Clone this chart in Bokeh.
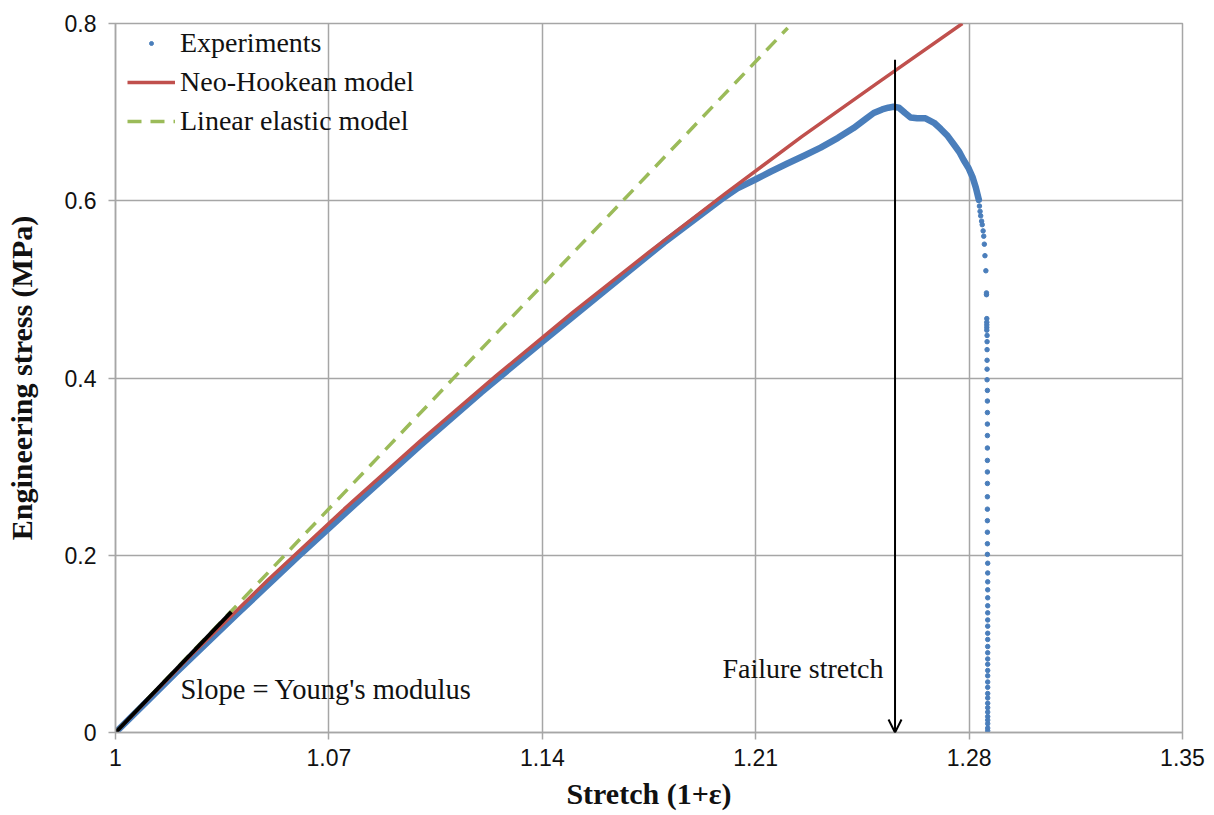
from bokeh.plotting import figure
from bokeh.models import Range1d, FixedTicker, Arrow, OpenHead, Legend, LegendItem
from bokeh.core.properties import value
from bokeh.embed import file_html
from bokeh.resources import INLINE

# ---------------- data ----------------
x_ticks = [1.0, 1.07, 1.14, 1.21, 1.28, 1.35]
x_tick_labels = ["1", "1.07", "1.14", "1.21", "1.28", "1.35"]
y_ticks = [0.0, 0.2, 0.4, 0.6, 0.8]
y_tick_labels = ["0", "0.2", "0.4", "0.6", "0.8"]

# Experiments: dense band of points (up to the peak and the first drop)
exp_band_stretch = [1.000, 1.010, 1.020, 1.040, 1.060, 1.080, 1.100, 1.120, 1.140,
                    1.160, 1.180, 1.190, 1.1985, 1.2040, 1.2099, 1.2150, 1.2204,
                    1.2260, 1.2313, 1.2370, 1.2421, 1.2460, 1.2487, 1.2515, 1.2535,
                    1.2552, 1.2570, 1.2590, 1.2608, 1.2630, 1.2657, 1.2685, 1.2707,
                    1.2730, 1.2749, 1.2768, 1.2782, 1.2798, 1.2811, 1.2822, 1.2832]
exp_band_stress = [0.000, 0.034, 0.068, 0.134, 0.199, 0.262, 0.324, 0.384, 0.441,
                   0.497, 0.553, 0.579, 0.601, 0.614, 0.624, 0.633, 0.642,
                   0.651, 0.660, 0.671, 0.682, 0.692, 0.699, 0.703, 0.705,
                   0.706, 0.705, 0.699, 0.694, 0.693, 0.693, 0.688, 0.681,
                   0.673, 0.664, 0.655, 0.646, 0.637, 0.627, 0.615, 0.601]

# Experiments: separated points of the final fall
exp_tail_stress = [0.594, 0.588, 0.583, 0.577, 0.573, 0.566, 0.560, 0.551, 0.538,
                   0.521, 0.496, 0.494, 0.467, 0.463, 0.460, 0.457, 0.454, 0.448,
                   0.441, 0.432, 0.420, 0.410, 0.398, 0.386, 0.374, 0.361, 0.348,
                   0.335, 0.321, 0.307, 0.294, 0.281, 0.266, 0.252, 0.239, 0.226,
                   0.213, 0.201, 0.191, 0.180, 0.170, 0.161, 0.152, 0.143, 0.135,
                   0.127, 0.120, 0.112, 0.105, 0.097, 0.090, 0.083, 0.077, 0.070,
                   0.064, 0.057, 0.051, 0.044, 0.039, 0.033, 0.028, 0.023, 0.018,
                   0.014, 0.010, 0.005, 0.002]
exp_tail_stretch = [1.2834, 1.2836, 1.2838, 1.2841, 1.2843, 1.2846, 1.2848, 1.2850, 1.2852,
                    1.2855, 1.2857, 1.2857, 1.2858, 1.2858, 1.2858, 1.2858, 1.2858, 1.2859,
                    1.2859, 1.2859, 1.2859, 1.2859, 1.2859, 1.2860, 1.2860, 1.2860, 1.2860,
                    1.2860, 1.2860, 1.2860, 1.2860, 1.2860, 1.2860, 1.2860, 1.2860, 1.2860,
                    1.2860, 1.2860, 1.2861, 1.2861, 1.2861, 1.2861, 1.2861, 1.2861, 1.2861,
                    1.2861, 1.2861, 1.2861, 1.2861, 1.2861, 1.2861, 1.2861, 1.2861, 1.2861,
                    1.2861, 1.2861, 1.2861, 1.2861, 1.2861, 1.2861, 1.2861, 1.2861, 1.2861,
                    1.2861, 1.2861, 1.2861, 1.2861]

# Neo-Hookean model curve
neo_stretch = [1.000, 1.025, 1.050, 1.075, 1.100, 1.125, 1.150, 1.175, 1.200, 1.225, 1.250, 1.2778]
neo_stress = [0.000, 0.088, 0.172, 0.252, 0.329, 0.403, 0.474, 0.542, 0.608, 0.672, 0.733, 0.800]

# Linear elastic model line
lin_stretch = [1.000, 1.2205]
lin_stress = [0.000, 0.795]

# Initial slope (Young's modulus) segment
slope_stretch = [1.000, 1.038]
slope_stress = [0.000, 0.136]

# Failure stretch arrow
failure_stretch = 1.2557
failure_arrow_top = 0.759

annotation_texts = ["Failure stretch", "Slope = Young's modulus"]
annotation_x = [1.2519, 1.0213]
annotation_y = [0.072, 0.0485]

# ---------------- styling ----------------
BLUE = "#4a7ebb"
RED = "#c0504d"
GREEN = "#9bbb59"
GRID = "#a6a6a6"
SERIF = "Liberation Serif"
SANS = "Liberation Sans"

p = figure(width=1214, height=815, output_backend="svg", toolbar_location=None,
           x_range=Range1d(1.0, 1.35), y_range=Range1d(0.0, 0.8),
           min_border_left=115, min_border_right=32, min_border_top=23,
           min_border_bottom=83)
p.background_fill_color = "white"
p.border_fill_color = "white"
p.outline_line_color = GRID
p.outline_line_width = 1.5

for ax, ticks, labels in ((p.xaxis, x_ticks, x_tick_labels), (p.yaxis, y_ticks, y_tick_labels)):
    ax.ticker = FixedTicker(ticks=ticks)
    ax.major_label_overrides = dict(zip(ticks, labels))
    ax.minor_tick_line_color = None
    ax.axis_line_color = GRID
    ax.axis_line_width = 1.5
    ax.major_tick_line_color = GRID
    ax.major_tick_line_width = 1.5
    ax.major_tick_in = 0
    ax.major_tick_out = 7
    ax.major_label_text_font = SANS
    ax.major_label_text_font_size = "23px"
    ax.major_label_text_color = "#111111"
    ax.axis_label_text_font = SERIF
    ax.axis_label_text_font_style = "bold"
    ax.axis_label_text_font_size = "30px"
    ax.axis_label_text_color = "#111111"

p.xaxis.axis_label = "Stretch (1+ε)"
p.yaxis.axis_label = "Engineering stress (MPa)"
p.xaxis.major_label_standoff = 9
p.xaxis.axis_label_standoff = 8
p.yaxis.major_label_standoff = 12
p.yaxis.axis_label_standoff = 24

p.xgrid.ticker = FixedTicker(ticks=x_ticks)
p.ygrid.ticker = FixedTicker(ticks=y_ticks)
p.xgrid.grid_line_color = GRID
p.ygrid.grid_line_color = GRID
p.xgrid.grid_line_width = 1.5
p.ygrid.grid_line_width = 1.5

# Experiments
p.line(exp_band_stretch, exp_band_stress, line_color=BLUE, line_width=6.5,
       line_join="round", line_cap="round")
exp_r = p.scatter(exp_tail_stretch, exp_tail_stress, size=4.5, color=BLUE)

# Models
neo_r = p.line(neo_stretch, neo_stress, line_color=RED, line_width=3.5)
lin_r = p.line(lin_stretch, lin_stress, line_color=GREEN, line_width=3.5,
               line_dash="14 9")

# Slope segment
p.line(slope_stretch, slope_stress, line_color="black", line_width=4)

# Failure arrow
p.add_layout(Arrow(end=OpenHead(size=13, line_width=2, line_color="black"),
                   x_start=failure_stretch, y_start=failure_arrow_top,
                   x_end=failure_stretch, y_end=0.0,
                   line_color="black", line_width=2))

p.text(x=annotation_x[:1], y=annotation_y[:1], text=annotation_texts[:1],
       text_font=value(SERIF), text_font_size="28px", text_align="right",
       text_baseline="middle", text_color="#111111")
p.text(x=annotation_x[1:], y=annotation_y[1:], text=annotation_texts[1:],
       text_font=value(SERIF), text_font_size="28.5px", text_align="left",
       text_baseline="middle", text_color="#111111")

legend = Legend(items=[LegendItem(label="Experiments", renderers=[exp_r]),
                       LegendItem(label="Neo-Hookean model", renderers=[neo_r]),
                       LegendItem(label="Linear elastic model", renderers=[lin_r])],
                location=(12, 592))
legend.label_text_font = SERIF
legend.label_text_font_size = "28px"
legend.label_text_color = "#111111"
legend.glyph_width = 48
legend.glyph_height = 10
legend.label_height = 39
legend.label_standoff = 5
legend.spacing = 0
legend.padding = 0
legend.margin = 0
legend.border_line_color = None
legend.background_fill_alpha = 0
p.add_layout(legend)

open("out.html", "w").write(file_html(p, INLINE))
